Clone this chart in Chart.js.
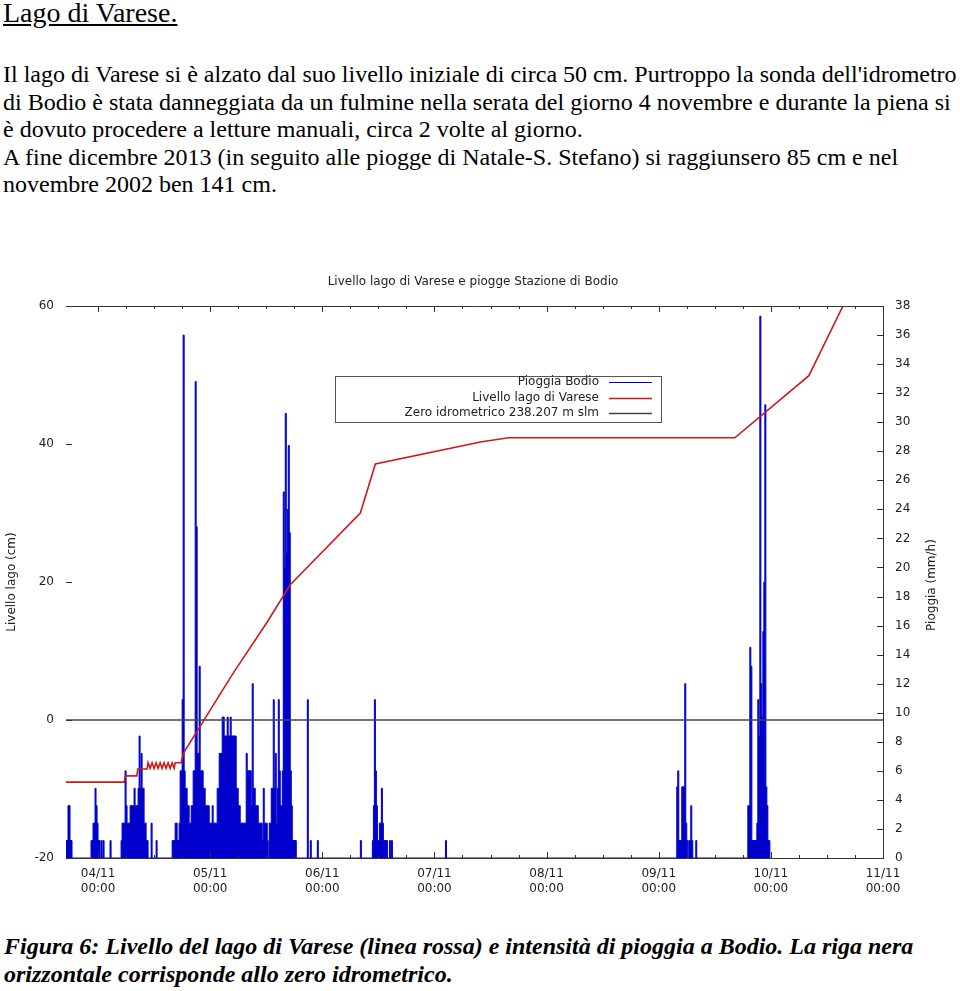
<!DOCTYPE html>
<html><head><meta charset="utf-8">
<script src="https://cdn.jsdelivr.net/npm/chart.js@4"></script>
<style>
html,body{margin:0;padding:0;background:#fff;}
body{width:960px;height:991px;position:relative;overflow:hidden;font-family:'Liberation Serif','Times New Roman',serif;color:#000;}
#t{position:absolute;left:3px;top:-2px;font-size:28px;line-height:30px;text-decoration:underline;white-space:nowrap;}
#p{position:absolute;left:3px;top:61px;font-size:24px;line-height:27.6px;white-space:nowrap;}
#c{position:absolute;left:4px;top:932px;font-size:24px;line-height:28px;font-weight:bold;font-style:italic;white-space:nowrap;}
#wrap{position:absolute;left:0;top:260px;width:960px;height:640px;}
</style></head><body>
<div id="t">Lago di Varese.</div>
<div id="p">Il lago di Varese si è alzato dal suo livello iniziale di circa 50 cm. Purtroppo la sonda dell'idrometro<br>di Bodio è stata danneggiata da un fulmine nella serata del giorno 4 novembre e durante la piena si<br>è dovuto procedere a letture manuali, circa 2 volte al giorno.<br>A fine dicembre 2013 (in seguito alle piogge di Natale-S. Stefano) si raggiunsero 85 cm e nel<br>novembre 2002 ben 141 cm.</div>
<div id="wrap"><canvas id="cv" width="960" height="640"></canvas></div>
<div id="c">Figura 6: Livello del lago di Varese (linea rossa) e intensità di pioggia a Bodio. La riga nera<br>orizzontale corrisponde allo zero idrometrico.</div>
<script>
// ---- data (hours since 04/11 00:00) ----
const dayLabels = ['04/11','05/11','06/11','07/11','08/11','09/11','10/11','11/11'];
const hourLabel = '00:00';
const chartTitle = 'Livello lago di Varese e piogge Stazione di Bodio';
const leftTitle = 'Livello lago (cm)';
const rightTitle = 'Pioggia (mm/h)';
const rainLabel = 'Pioggia Bodio';
const levelLabel = 'Livello lago di Varese';
const zeroLabel = 'Zero idrometrico 238.207 m slm';

// rain intensity (mm/h), value holds until next time
const rainHours = [-6.86,-6.43,-6.0,-5.57,-1.5,-1.07,-0.64,-0.43,-0.21,0,0.43,0.64,0.86,1.07,1.29,2.57,2.79,
 4.93,5.14,5.79,6.0,6.21,6.86,7.71,7.93,8.57,8.79,9.0,9.21,9.43,9.86,10.29,10.71,11.36,11.57,12.43,12.64,
 15.86,16.5,16.93,17.36,17.57,18.0,18.21,18.43,18.64,19.07,19.5,19.93,20.36,20.79,21.0,21.21,21.64,21.86,22.5,22.93,23.79,
 24.43,24.64,25.5,25.93,26.57,27.0,27.64,27.86,28.29,28.5,29.57,30.0,30.43,31.71,31.93,32.79,33.0,33.21,33.64,34.29,
 35.14,35.36,35.57,36.21,36.43,36.64,37.07,37.5,37.71,37.93,38.14,38.36,38.57,38.79,39.0,39.43,39.64,39.86,40.07,40.29,
 40.5,40.71,40.93,41.14,41.36,41.57,42.43,44.79,45.0,45.43,45.64,46.93,47.14,56.14,56.36,
 58.71,58.93,59.14,59.36,59.57,59.79,60.21,60.64,60.86,61.07,61.93,62.36,62.57,62.79,63.0,74.36,74.57,
 123.86,124.07,124.29,124.93,125.57,125.79,126.0,126.21,126.43,126.86,127.07,127.29,127.93,128.14,
 139.07,139.5,139.71,139.93,141.0,141.21,141.43,141.64,141.86,142.07,142.29,142.5,142.71,142.93,143.14,143.36,143.79];
const rainValues = [1.2,3.6,1.2,0,1.2,2.4,4.8,3.6,2.4,1.2,0,1.2,0,1.2,0,1.2,0,
 1.2,2.4,6.0,3.6,2.4,3.6,4.8,3.6,4.8,8.4,4.8,7.2,4.8,2.4,1.2,0,2.4,0,1.2,0,
 1.2,2.4,1.2,2.4,6.0,10.9,36.0,6.0,4.8,3.6,2.4,3.6,6.0,32.8,22.8,7.2,13.2,6.0,4.8,3.6,2.4,
 3.6,2.4,4.8,7.2,9.7,8.4,9.7,8.4,9.7,8.4,4.8,3.6,2.4,7.2,6.0,3.6,12.0,4.8,3.6,2.4,
 1.2,4.8,2.4,1.2,0,2.4,4.8,10.9,4.8,7.2,2.4,4.8,10.9,6.0,3.6,6.0,25.2,20.0,30.6,21.0,
 24.0,28.4,22.4,6.0,3.6,1.2,0,10.9,0,1.2,0,1.2,0,1.2,0,
 1.2,3.6,10.9,6.0,3.6,1.2,2.4,4.8,2.4,1.2,0,1.2,0,1.2,0,1.2,0,
 4.9,6.0,1.2,4.9,12.0,2.4,1.2,0,1.2,3.6,1.2,0,1.2,0,
 3.6,14.5,13.2,1.2,2.4,10.9,8.4,37.3,12.0,9.7,15.6,19.0,31.2,4.9,3.6,1.2,0];

// lake level (cm above zero idrometrico)
const levelHours = [-6.86,5.6,5.85,8.3,8.5,10.5,10.71,11.14,11.57,12.0,12.43,12.86,13.29,13.71,14.14,14.57,15.0,15.43,15.86,16.29,16.5,
 17.79,18.21,18.64,28.93,36.21,41.14,56.14,59.36,81.86,87.86,136.29,152.14,159.43,164.36];
const levelValues = [-9.0,-9.0,-8.1,-8.1,-7.1,-7.1,-6.2,-7.0,-6.2,-7.0,-6.2,-7.0,-6.2,-7.0,-6.2,-7.0,-6.2,-7.0,-6.2,-7.0,-6.2,
 -6.2,-5.0,-4.4,6.8,14.2,19.6,30.0,37.1,40.3,40.9,40.9,49.9,60.0,67.0];

const zeroLevel = 0;
const xMin = -6.857, xMax = 168;

const FONT = {family:'DejaVu Sans', size:12};
const TXT = '#222';

const decor = {
  id:'decor',
  afterDraw(chart){
    const {ctx, chartArea:a, scales} = chart;
    const x = scales.x, y = scales.y, y2 = scales.y2;
    ctx.save();
    ctx.strokeStyle = '#333'; ctx.lineWidth = 1;
    ctx.beginPath(); ctx.moveTo(a.left, a.top+0.5); ctx.lineTo(a.right, a.top+0.5); ctx.stroke();
    ctx.beginPath();
    for (let h = 0; h <= xMax; h += 6) {
      const px = Math.round(x.getPixelForValue(h)) + 0.5;
      const len = (h % 24 === 0) ? 6 : 3;
      ctx.moveTo(px, a.top); ctx.lineTo(px, a.top+len);
      ctx.moveTo(px, a.bottom); ctx.lineTo(px, a.bottom-len);
    }
    y.ticks.forEach(t => { const py = Math.round(y.getPixelForValue(t.value))+0.5; ctx.moveTo(a.left, py); ctx.lineTo(a.left+6, py); });
    y2.ticks.forEach(t => { const py = Math.round(y2.getPixelForValue(t.value))+0.5; ctx.moveTo(a.right, py); ctx.lineTo(a.right-6, py); });
    ctx.stroke();
    ctx.fillStyle = TXT; ctx.font = '12px "DejaVu Sans"';
    ctx.textAlign = 'center'; ctx.textBaseline = 'middle';
    ctx.fillText(chart.options.plugins.title.text, 473, 22);
    ctx.save(); ctx.translate(932, 325); ctx.rotate(-Math.PI/2);
    ctx.fillText(chart.options.scales.y2.title.text, 0, 0); ctx.restore();
    ctx.strokeStyle = '#555';
    ctx.strokeRect(335.5, 116.5, 326, 46);
    const rows = [122, 138, 153];
    const ds = chart.data.datasets;
    const order = [2, 0, 1];
    ctx.textAlign = 'right';
    order.forEach((di, r) => {
      const d = ds[di];
      ctx.fillStyle = TXT; ctx.fillText(d.label, 599, rows[r]);
      ctx.strokeStyle = d.borderColor; ctx.lineWidth = d.borderWidth;
      ctx.beginPath(); ctx.moveTo(609, rows[r]+0.5); ctx.lineTo(652, rows[r]+0.5); ctx.stroke();
    });
    ctx.restore();
  }
};

new Chart(document.getElementById('cv'), {
  data: {
    datasets: [
      { type:'line', label: levelLabel, order:1, yAxisID:'y',
        data: levelHours.map((h,i)=>({x:h, y:levelValues[i]})),
        borderColor:'#cc1a1a', borderWidth:1.6, pointRadius:0, tension:0, fill:false },
      { type:'line', label: zeroLabel, order:2, yAxisID:'y',
        data: [{x:xMin, y:zeroLevel},{x:xMax, y:zeroLevel}],
        borderColor:'#444', borderWidth:1.5, pointRadius:0, fill:false },
      { type:'line', label: rainLabel, order:3, yAxisID:'y2',
        data: rainHours.map((h,i)=>({x:h, y:rainValues[i]})),
        borderColor:'#0000cc', backgroundColor:'#0000cc', borderWidth:1, pointRadius:0,
        stepped:true, fill:'origin' }
    ]
  },
  options: {
    responsive:false, animation:false, devicePixelRatio:1,
    layout:{padding:{top:46, left:0, right:0, bottom:0}},
    plugins:{ legend:{display:false}, tooltip:{enabled:false}, title:{display:false, text:chartTitle} },
    scales:{
      x:{ type:'linear', min:xMin, max:xMax,
        afterBuildTicks: s => { s.ticks = dayLabels.map((d,i)=>({value:i*24})); },
        ticks:{ callback: v => [dayLabels[Math.round(v/24)], hourLabel], autoSkip:false, maxRotation:0, minRotation:0, padding:9, color:TXT, font:FONT },
        grid:{display:false, drawTicks:false},
        border:{display:true, color:'#333', width:1},
        afterFit: s => { s.height = 42; } },
      y:{ type:'linear', position:'left', min:-20, max:60,
        ticks:{ stepSize:20, padding:12, color:TXT, font:FONT },
        grid:{display:false, drawTicks:false}, border:{display:false},
        title:{display:true, text:leftTitle, color:TXT, font:FONT, padding:{top:5, bottom:0}},
        afterFit: s => { s.width = 66; } },
      y2:{ type:'linear', position:'right', min:0, max:38,
        ticks:{ stepSize:2, padding:12, color:TXT, font:FONT, autoSkip:false },
        grid:{display:false, drawTicks:false}, border:{display:true, color:'#333', width:1},
        title:{display:false, text:rightTitle},
        afterFit: s => { s.width = 77; } }
    }
  },
  plugins:[decor]
});
</script>
</body></html>
